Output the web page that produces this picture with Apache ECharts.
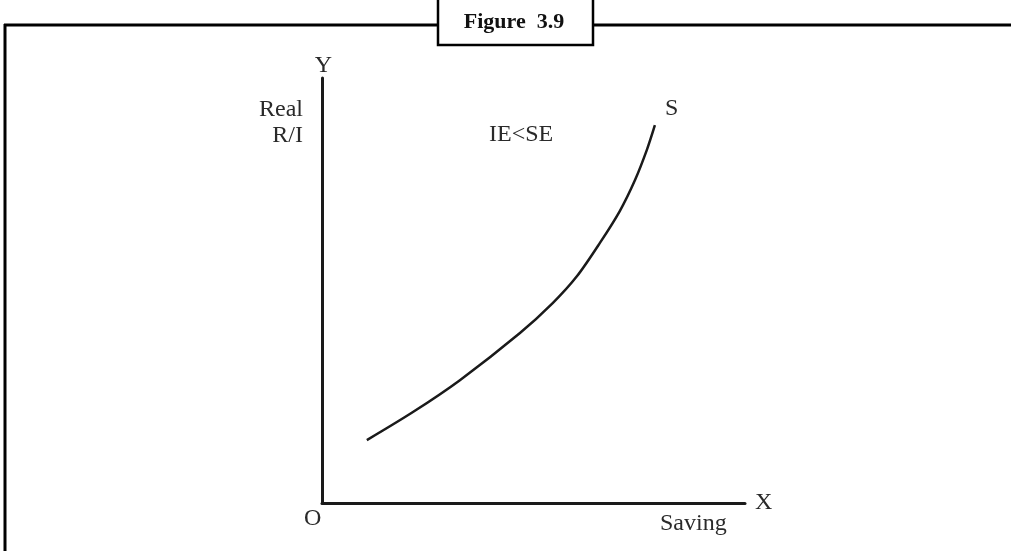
<!DOCTYPE html>
<html>
<head>
<meta charset="utf-8">
<script src="https://cdn.jsdelivr.net/npm/echarts@6/dist/echarts.min.js"></script>
<style>
  html, body { margin: 0; padding: 0; background: #fff; }
  #chart { width: 1011px; height: 551px; }
</style>
</head>
<body>
<div id="chart"></div>
<script>
// saving curve (0..100 on both axes)
const savingX = [10.6, 21.5, 32.6, 46.8, 54.6, 60.3, 65.7, 70.4, 74.0, 76.8, 78.7]
const rateY = [14.8, 21.4, 28.9, 40.0, 47.1, 53.4, 61.2, 68.7, 76.0, 83.1, 88.9]
const curveName = 'S'
const title = 'Figure  3.9'

const serif = '"Liberation Serif", "DejaVu Serif", serif'
const ink = '#1a1a1a'
const textInk = '#2a2a2a'

const chart = echarts.init(document.getElementById('chart'))

const option = {
    animation: false,
    backgroundColor: '#fff',
    grid: { left: 322, top: 78, width: 423, height: 425 },
    xAxis: {
        type: 'value', min: 0, max: 100,
        name: 'X', nameLocation: 'end', nameGap: 10,
        nameTextStyle: { fontFamily: serif, fontSize: 24, color: textInk, verticalAlign: 'middle', padding: [0, 0, 4, 0] },
        axisLine: { show: true, lineStyle: { color: ink, width: 3 } },
        axisTick: { show: false }, axisLabel: { show: false }, splitLine: { show: false }
    },
    yAxis: {
        type: 'value', min: 0, max: 100,
        name: 'Y', nameLocation: 'end', nameGap: 0,
        nameTextStyle: { fontFamily: serif, fontSize: 24, color: textInk, align: 'center', padding: [0, 0, 0, 3] },
        axisLine: { show: true, lineStyle: { color: ink, width: 3 } },
        axisTick: { show: false }, axisLabel: { show: false }, splitLine: { show: false }
    },
    series: [{
        type: 'line',
        name: curveName,
        data: savingX.map((x, i) => [x, rateY[i]]),
        smooth: 0.3,
        symbol: 'none',
        lineStyle: { color: ink, width: 2.5 },
        endLabel: {
            show: true, formatter: curveName, fontFamily: serif, fontSize: 24,
            color: textInk, offset: [2, -16]
        }
    }],
    graphic: [
        { type: 'line', shape: { x1: 4, y1: 25, x2: 1011, y2: 25 }, style: { stroke: '#000', lineWidth: 3 }, z: 10 },
        { type: 'line', shape: { x1: 5, y1: 24, x2: 5, y2: 551 }, style: { stroke: '#000', lineWidth: 3 }, z: 10 },
        { type: 'rect', shape: { x: 438, y: -2, width: 155, height: 47 }, style: { fill: '#fff', stroke: '#000', lineWidth: 2.5 }, z: 20 },
        { type: 'text', x: 514, y: 22, z: 21, style: { text: title, font: 'bold 22px ' + serif, fill: '#111', align: 'center', verticalAlign: 'middle' } },
        { type: 'text', x: 303, y: 97, z: 21, style: { text: 'Real\nR/I', font: '24px ' + serif, fill: textInk, align: 'right', verticalAlign: 'top', lineHeight: 26 } },
        { type: 'text', x: 489, y: 135, z: 21, style: { text: 'IE<SE', font: '24px ' + serif, fill: textInk, align: 'left', verticalAlign: 'middle' } },
        { type: 'text', x: 304, y: 519, z: 21, style: { text: 'O', font: '24px ' + serif, fill: textInk, align: 'left', verticalAlign: 'middle' } },
        { type: 'text', x: 660, y: 524, z: 21, style: { text: 'Saving', font: '24px ' + serif, fill: textInk, align: 'left', verticalAlign: 'middle' } }
    ]
}

chart.setOption(option)
</script>
</body>
</html>
